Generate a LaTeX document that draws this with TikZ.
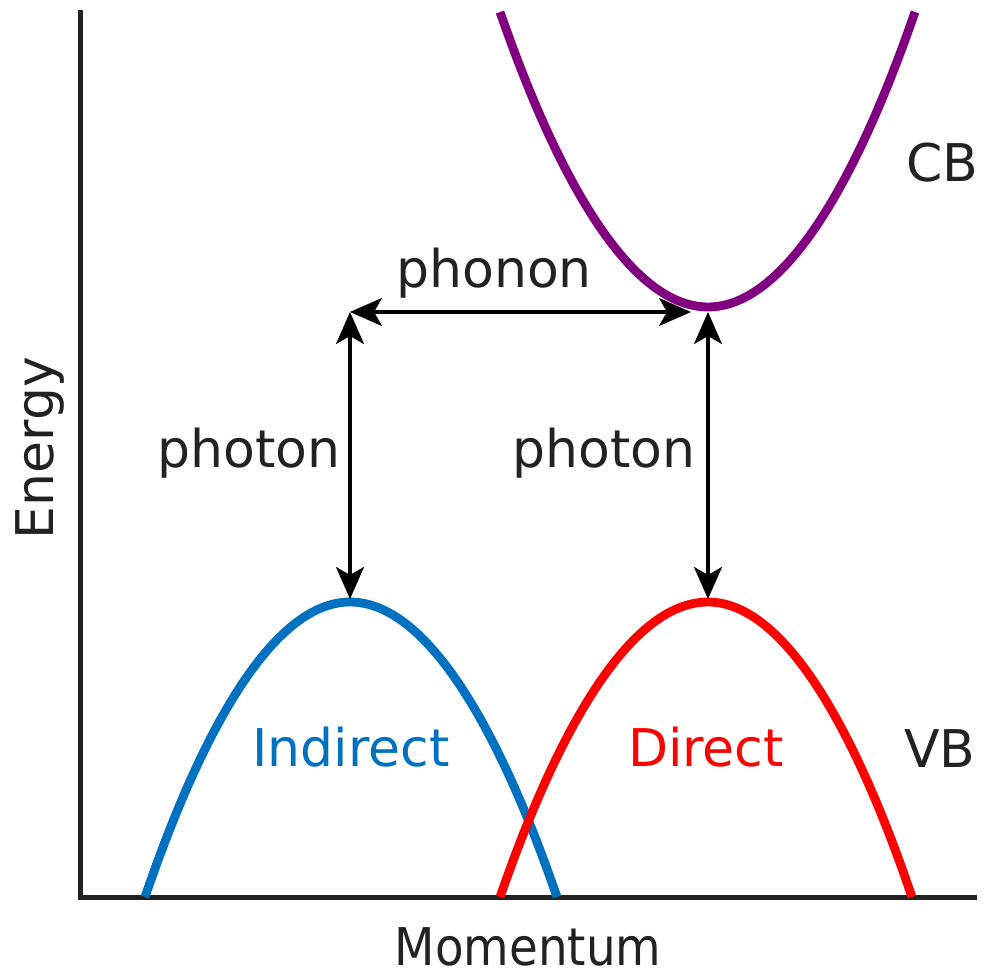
\documentclass[tikz,border=0pt]{standalone}
\usepackage{fontspec}
\setmainfont{DejaVu Sans}
\usetikzlibrary{arrows.meta}
\definecolor{bandCB}{RGB}{128,0,128}
\definecolor{bandInd}{RGB}{0,112,192}
\definecolor{bandDir}{RGB}{255,0,0}
\definecolor{lblGray}{RGB}{34,34,34}

\begin{document}
\begin{tikzpicture}[x=0.5pt, y=-0.5pt,
    band/.style={line width=4.4pt},
    lbl/.style={font=\fontsize{26}{30}\selectfont, text=lblGray, anchor=base, inner sep=0pt},
    trans/.style={{Stealth[length=16pt, width=14pt, inset=4pt]}-{Stealth[length=16pt, width=14pt, inset=4pt]}, line width=1.6pt}
  ]
    \useasboundingbox (0,0) rectangle (985,977);
    % axes
    \draw[line width=2.5pt, draw=lblGray] (80,10) -- (80,897) -- (977,897);
    \node[lbl, xscale=0.9] (mom) at (528,965) {Momentum};
    \node[lbl, rotate=90] (en) at (53,448) {Energy};
    % bands
    \draw[band, draw=bandCB] (500,12) parabola bend (708,307) (915,12);
    \draw[band, draw=bandInd] (145,897) parabola bend (350,602) (557,897);
    \draw[band, draw=bandDir] (500,897) parabola bend (708,602) (912,897);
    \node[lbl] (cb) at (942,182) {CB};
    \node[lbl] (vb) at (940,768) {VB};
    \node[lbl, text=bandInd] (ind) at (351,767) {Indirect};
    \node[lbl, text=bandDir] (dir) at (706,767) {Direct};
    % transitions
    \coordinate (cbmin) at (708,312);
    \coordinate (cbedge) at (691,312);
    \coordinate (kind) at (350,312);
    \coordinate (vbind) at (350,599);
    \coordinate (vbdir) at (708,599);
    \draw[trans] (kind) -- (cbedge);
    \draw[trans] (kind) -- (vbind);
    \draw[trans] (cbmin) -- (vbdir);
    \node[lbl] (phon) at (494,288) {phonon};
    \node[lbl] (phot1) at (249,468) {photon};
    \node[lbl] (phot2) at (604,468) {photon};
  \end{tikzpicture}
\end{document}
